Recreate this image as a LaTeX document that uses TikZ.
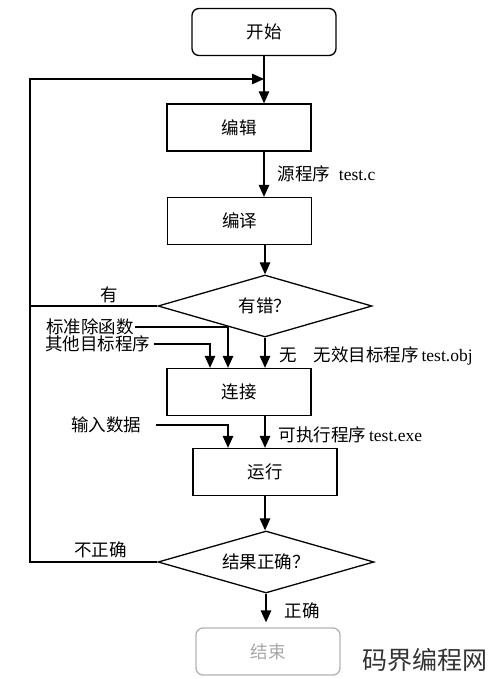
\documentclass[tikz,border=0pt]{standalone}
\usepackage{fontspec}
\setmainfont{Liberation Serif}
\newfontfamily\cjk{Noto Sans CJK SC}
\usetikzlibrary{shapes.geometric,arrows.meta,calc}

\begin{document}
\begin{tikzpicture}[x=1pt, y=-1pt,
    every node/.style={font=\fontsize{17.5}{18}\selectfont},
    box/.style={draw, line width=1.3pt, minimum width=144pt, minimum height=47pt},
    term/.style={box, rounded corners=7pt},
    cond/.style={diamond, draw, line width=1.3pt, aspect=3.45, inner sep=0pt},
    lbl/.style={anchor=west, inner sep=1pt},
    arr/.style={line width=1.3pt, -{Triangle[length=12pt,width=10.5pt]}}]
    \useasboundingbox (0,0) rectangle (490,679);

    \node[term] (start) at (264,32) {\cjk 开始};
    \node[box] (edit) at (239,127.5) {\cjk 编辑};
    \node[box] (compile) at (239.5,221) {\cjk 编译};
    \node[cond, minimum width=214pt, minimum height=62pt] (err) at (265,306) {\cjk 有错？};
    \node[box] (link) at (239,392) {\cjk 连接};
    \node[box] (run) at (265,472) {\cjk 运行};
    \node[cond, minimum width=216pt, minimum height=62pt] (ok) at (266,562) {\cjk 结果正确？};
    \node[term, draw=gray!60, text=gray!70] (end) at (268,651.5) {\cjk 结束};

    % inputs on the left
    \node[lbl] (lib) at (45,327) {\cjk 标准除函数};
    \node[lbl] (obj) at (44,344) {\cjk 其他目标程序};
    \node[lbl] (data) at (70,425) {\cjk 输入数据};

    \coordinate (back) at (264,79);
    \coordinate (lx) at (30,0);

    % main flow
    \draw[arr] (start.south) -- (start |- edit.north);
    \draw[arr] (edit.south -| start) -- (start |- compile.north)
        node[lbl, midway, xshift=12pt] {{\cjk 源程序}\ \ test.c};
    \draw[arr] (compile.south -| err) -- (err.north);
    \draw[arr] (err.south) -- (err.south |- link.north)
        node[lbl, pos=0.6, xshift=13pt] {\cjk 无}
        node[lbl, pos=0.6, xshift=47pt] {{\cjk 无效目标程序}\,test.obj};
    \draw[arr] (link.south -| err) -- (run.north)
        node[lbl, pos=0.6, xshift=12pt] {{\cjk 可执行程序}\,test.exe};
    \draw[arr] (run.south) -- (run.south |- ok.north);
    \draw[arr] (ok.south) -- ([yshift=5pt]ok.south |- end.north)
        node[lbl, pos=0.6, xshift=17pt] {\cjk 正确};

    % going back
    \draw[arr] (ok.west) -- (ok.west -| lx) |- (back);
    \draw[line width=1.3pt] (err.west) -- (err.west -| lx);
    \node[above=0pt] (yes) at ($(err.west)!0.375!(err.west -| lx)$) {\cjk 有};
    \node[above=1pt] (wrong) at ($(ok.west)!0.445!(ok.west -| lx)$) {\cjk 不正确};

    \draw[arr] (lib.east) -| ([xshift=-11pt]link.north);
    \draw[arr] ([xshift=3pt]obj.east) -| ([xshift=-29pt]link.north);
    \draw[arr] ([xshift=14pt]data.east) -| ([xshift=-37pt]run.north);

    \node[font={\cjk\fontsize{25}{26}\selectfont}, text=black!80, anchor=west, inner sep=0pt] (mark) at (362,660) {码界编程网};
\end{tikzpicture}
\end{document}
